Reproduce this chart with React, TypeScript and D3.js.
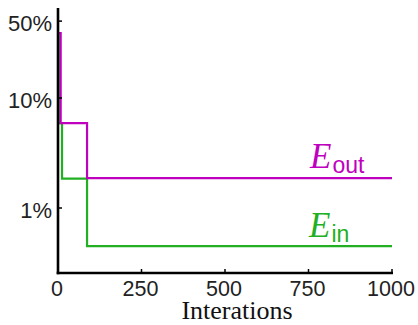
import { useEffect, useRef } from "react";
import * as d3 from "d3";

// step data (iteration, error in %)
const EOUT_IT = [0, 8, 87, 1000];
const EOUT_VAL = [39, 5.9, 1.87, 1.87];
const EIN_IT = [0, 2, 12, 87, 1000];
const EIN_VAL = [38, 5.9, 1.85, 0.45, 0.45];

const X_TICKS = [0, 250, 500, 750, 1000];
const Y_TICKS = [50, 10, 1];
const Y_LABELS = ["50%", "10%", "1%"];

const MAGENTA = "#bf00bf";
const GREEN = "#22b022";

export default function App() {
  const svgRef = useRef<SVGSVGElement>(null);
  const width = 418;
  const height = 325;

  useEffect(() => {
    const svg = d3.select(svgRef.current);
    svg.selectAll("*").remove();

    const xScale = d3.scaleLinear().domain([0, 1000]).range([58, 392]);
    const yScale = d3.scaleLog().domain([0.2565, 65.8]).range([273, 8]);

    const line = d3
      .line<[number, number]>()
      .x((d) => xScale(d[0]))
      .y((d) => yScale(d[1]))
      .curve(d3.curveStepAfter);

    const ein: [number, number][] = EIN_IT.map((d, i) => [d, EIN_VAL[i]]);
    const eout: [number, number][] = EOUT_IT.map((d, i) => [d, EOUT_VAL[i]]);

    svg.append("path")
      .attr("d", line(ein))
      .attr("fill", "none")
      .attr("stroke", GREEN)
      .attr("stroke-width", 2.2);
    svg.append("path")
      .attr("d", line(eout))
      .attr("fill", "none")
      .attr("stroke", MAGENTA)
      .attr("stroke-width", 2.2);

    /* axes */
    const [y0, y1] = yScale.range();
    const [x0, x1] = xScale.range();
    svg.append("line")
      .attr("x1", x0).attr("x2", x0).attr("y1", y1).attr("y2", y0 + 1.2)
      .attr("stroke", "black").attr("stroke-width", 2.6);
    svg.append("line")
      .attr("x1", x0 - 1.3).attr("x2", x1 + 1).attr("y1", y0).attr("y2", y0)
      .attr("stroke", "black").attr("stroke-width", 2.6);

    /* x ticks */
    X_TICKS.forEach((t) => {
      svg.append("line")
        .attr("x1", xScale(t)).attr("x2", xScale(t))
        .attr("y1", y0).attr("y2", y0 - 4)
        .attr("stroke", "black").attr("stroke-width", 1.5);
      svg.append("text")
        .attr("x", xScale(t) - 1)
        .attr("y", 296)
        .attr("text-anchor", "middle")
        .attr("font-family", "Liberation Sans, sans-serif")
        .attr("font-size", 21.5)
        .attr("fill", "#222")
        .text(t);
    });

    /* y ticks */
    Y_TICKS.forEach((t, i) => {
      svg.append("line")
        .attr("x1", x0).attr("x2", x0 + 4)
        .attr("y1", yScale(t)).attr("y2", yScale(t))
        .attr("stroke", "black").attr("stroke-width", 1.5);
      svg.append("text")
        .attr("x", 52)
        .attr("y", yScale(t) + 9.5)
        .attr("text-anchor", "end")
        .attr("font-family", "Liberation Sans, sans-serif")
        .attr("font-size", 22)
        .attr("fill", "#222")
        .text(Y_LABELS[i]);
    });

    svg.append("text")
      .attr("x", 237)
      .attr("y", 319)
      .attr("text-anchor", "middle")
      .attr("font-family", "Liberation Serif, serif")
      .attr("font-size", 26)
      .attr("fill", "#111")
      .text("Interations");

    /* series labels */
    const label = (x: number, y: number, sub: string, color: string) => {
      const t = svg.append("text")
        .attr("x", x)
        .attr("y", y)
        .attr("fill", color);
      t.append("tspan")
        .attr("font-family", "Liberation Serif, serif")
        .attr("font-style", "italic")
        .attr("font-size", 35)
        .text("E");
      t.append("tspan")
        .attr("dx", 1)
        .attr("dy", 5)
        .attr("font-family", "Liberation Sans, sans-serif")
        .attr("font-size", 23)
        .text(sub);
    };
    label(310, 168, "out", MAGENTA);
    label(309, 237, "in", GREEN);
  }, []);

  return (
    <div style={{ position: "absolute", left: 0, top: 0 }}>
      <svg ref={svgRef} width={width} height={height} style={{ display: "block", background: "white" }} />
    </div>
  );
}
